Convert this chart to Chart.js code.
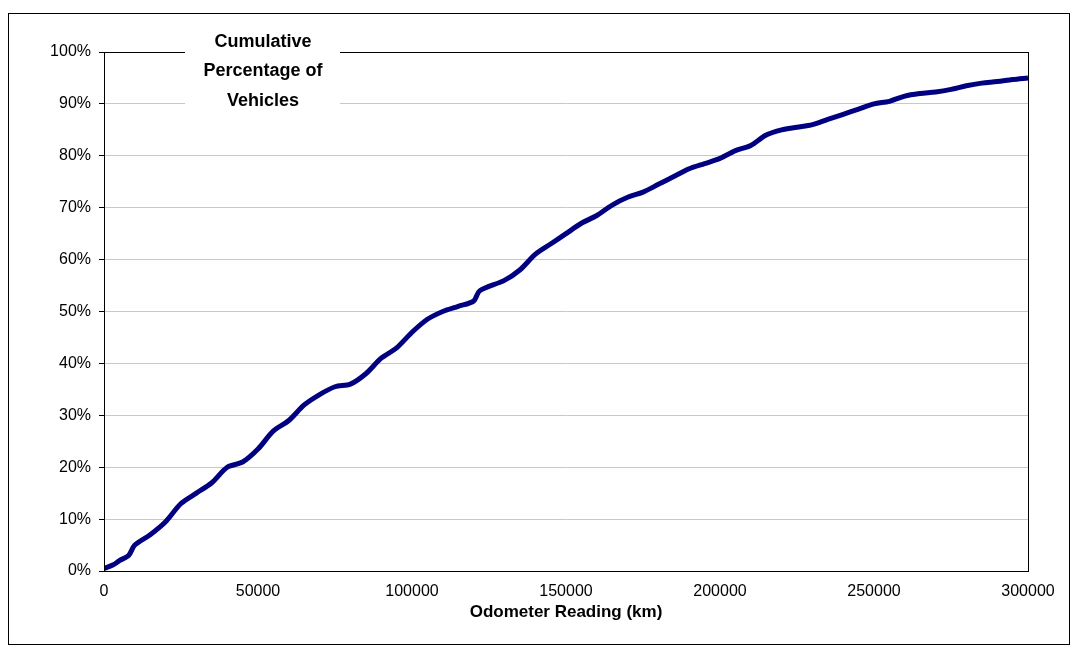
<!DOCTYPE html>
<html>
<head>
<meta charset="utf-8">
<script src="https://cdn.jsdelivr.net/npm/chart.js@4"></script>
<style>
  body { margin: 0; background: #fff; }
  #wrap { position: absolute; left: 0; top: 0; width: 1078px; height: 653px; }
</style>
</head>
<body>
<div id="wrap"><canvas id="odoChart"></canvas></div>
<script>
// odometer reading (km) and cumulative share of vehicles (%)
const odometerKm = [0, 3000, 5000, 8000, 10000, 15000, 20000, 25000, 30000, 35000, 40000, 45000,
  50000, 55000, 60000, 65000, 70000, 75000, 80000, 85000, 90000, 95000, 100000, 105000,
  110000, 115000, 120000, 122000, 130000, 135000, 140000, 145000, 150000, 155000, 160000,
  165000, 170000, 175000, 180000, 185000, 190000, 195000, 200000, 205000, 210000, 215000,
  220000, 225000, 230000, 235000, 240000, 245000, 250000, 255000, 260000, 265000, 270000,
  275000, 280000, 285000, 290000, 295000, 300000];
const cumPercent = [0.5, 1.2, 2, 3, 5, 7, 9.5, 13, 15, 17, 20, 21,
  23.5, 27, 29, 32, 34, 35.5, 36, 38, 41, 43, 46, 48.5,
  50, 51, 52, 54, 56, 58, 61, 63, 65, 67, 68.5,
  70.5, 72, 73, 74.5, 76, 77.5, 78.5, 79.5, 81, 82, 84,
  85, 85.5, 86, 87, 88, 89, 90, 90.5, 91.5, 92, 92.3,
  92.8, 93.5, 94, 94.3, 94.7, 95];
const yTicks = [0, 10, 20, 30, 40, 50, 60, 70, 80, 90, 100];

const titleLines = ['Cumulative', 'Percentage of', 'Vehicles'];

const frameAndTitle = {
  id: 'frameAndTitle',
  afterDraw(chart) {
    const ctx = chart.ctx;
    const a = chart.chartArea;
    ctx.save();
    ctx.strokeStyle = '#000';
    ctx.lineWidth = 1;
    ctx.strokeRect(8.5, 13.5, 1061, 631);
    ctx.strokeRect(a.left + 0.5, a.top + 0.5, a.right - a.left, a.bottom - a.top);
    ctx.fillStyle = '#fff';
    ctx.fillRect(185, 40, 155, 75);
    ctx.fillStyle = '#000';
    ctx.font = 'bold 18px "Liberation Sans", Arial, sans-serif';
    ctx.textAlign = 'center';
    ctx.textBaseline = 'middle';
    titleLines.forEach((t, i) => ctx.fillText(t, 263, 42 + i * 29.5));
    ctx.restore();
  }
};

const ctx = document.getElementById('odoChart').getContext('2d');
new Chart(ctx, {
  type: 'line',
  data: {
    datasets: [{
      data: odometerKm.map((x, i) => ({ x: x, y: cumPercent[i] })),
      borderColor: '#000080',
      borderWidth: 5,
      pointRadius: 0,
      tension: 0.3,
      fill: false
    }]
  },
  options: {
    responsive: true,
    maintainAspectRatio: false,
    animation: false,
    layout: { padding: { top: 52, right: 50, left: 0, bottom: 30 } },
    plugins: { legend: { display: false }, tooltip: { enabled: false } },
    scales: {
      x: {
        type: 'linear', min: 0, max: 300000,
        ticks: { stepSize: 50000, color: '#000', font: { family: 'Liberation Sans', size: 16 }, maxRotation: 0, callback: v => String(v) },
        grid: { display: false },
        border: { color: '#000' },
        title: { display: true, text: 'Odometer Reading (km)', color: '#000', font: { family: 'Liberation Sans', size: 17, weight: 'bold' }, padding: { top: 4, bottom: 0 } },
        afterFit: (s) => { s.height = 52; }
      },
      y: {
        min: 0, max: 100,
        afterBuildTicks: (s) => { s.ticks = yTicks.map(v => ({ value: v })); },
        ticks: { color: '#000', font: { family: 'Liberation Sans', size: 16 }, padding: 8, callback: v => v + '%' },
        grid: { color: '#c8c8c8', drawTicks: true, tickColor: '#000', tickLength: 5 },
        border: { color: '#000' },
        afterFit: (s) => { s.width = 104; }
      }
    }
  },
  plugins: [frameAndTitle]
});
</script>
</body>
</html>
